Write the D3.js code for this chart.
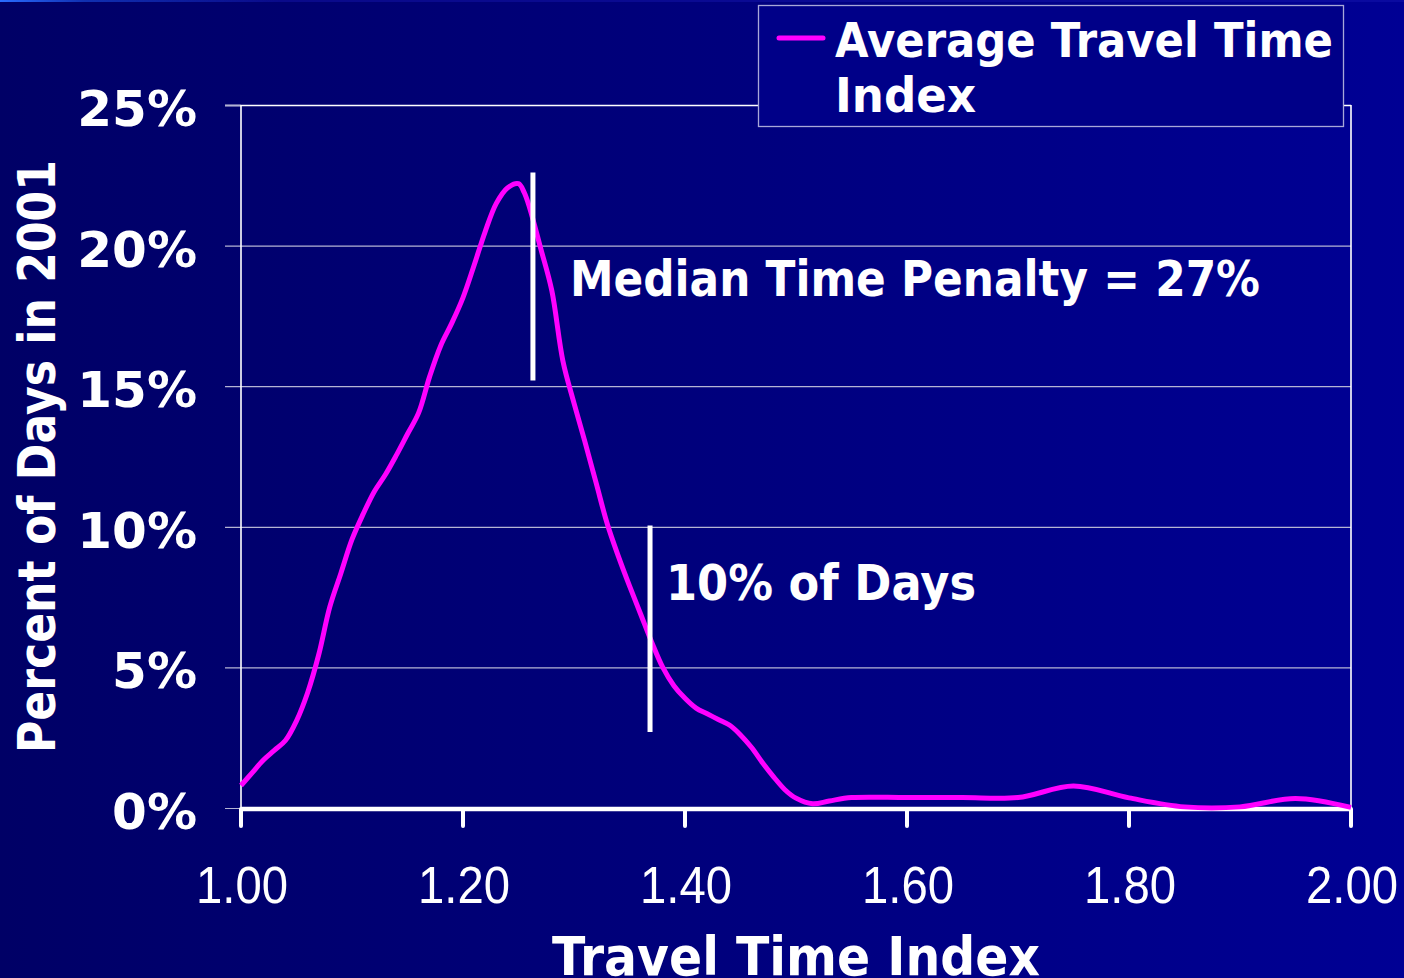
<!DOCTYPE html>
<html>
<head>
<meta charset="utf-8">
<script src="https://cdn.jsdelivr.net/npm/d3@7"></script>
<style>
  html, body { margin: 0; padding: 0; background: #000066; overflow: hidden; }
  svg { display: block; }
</style>
</head>
<body>
<svg id="chart" width="1404" height="978"></svg>
<script>
// ---- data ----
const travelIndex = [1.000,1.010,1.020,1.030,1.040,1.050,1.060,1.070,1.080,1.090,
  1.100,1.110,1.120,1.130,1.140,1.150,1.160,1.170,1.180,1.190,
  1.200,1.210,1.220,1.230,1.240,1.250,1.255,1.260,1.270,1.280,
  1.290,1.300,1.310,1.320,1.330,1.340,1.350,1.360,1.370,1.380,
  1.390,1.400,1.410,1.420,1.430,1.440,1.450,1.460,1.470,1.480,
  1.490,1.500,1.515,1.530,1.550,1.600,1.650,1.700,1.750,1.800,
  1.850,1.900,1.950,2.000];
const percentDays = [0.80,1.25,1.70,2.05,2.40,3.10,4.10,5.45,7.15,8.35,
  9.55,10.45,11.25,11.85,12.55,13.30,14.05,15.35,16.45,17.25,
  18.15,19.30,20.50,21.50,22.05,22.20,21.90,21.35,19.90,18.40,
  15.90,14.40,13.00,11.55,10.10,8.95,7.90,6.90,5.90,5.00,
  4.35,3.90,3.55,3.35,3.15,2.95,2.60,2.15,1.60,1.10,
  0.65,0.35,0.15,0.25,0.37,0.37,0.37,0.37,0.78,0.36,
  0.04,0.04,0.34,0.02];
const yTicks = [0, 5, 10, 15, 20, 25];
const yTickLabels = ["0%", "5%", "10%", "15%", "20%", "25%"];
const xTicks = [1.0, 1.2, 1.4, 1.6, 1.8, 2.0];
const xTickLabels = ["1.00", "1.20", "1.40", "1.60", "1.80", "2.00"];
const seriesName = ["Average Travel Time", "Index"];
const xTitle = "Travel Time Index";
const yTitle = "Percent of Days in 2001";
const medianMarker = { x: 1.263, y0: 15.2, y1: 22.6, label: "Median Time Penalty = 27%" };
const tenPctMarker = { x: 1.3685, y0: 2.7, y1: 10.05, label: "10% of Days" };

// ---- drawing ----
const svg = d3.select("#chart");
const W = 1404, H = 978;
const x = d3.scaleLinear().domain([1, 2]).range([241, 1351]);
const y = d3.scaleLinear().domain([0, 25]).range([808, 105]);

const defs = svg.append("defs");
const bgGrad = defs.append("linearGradient").attr("id", "bg").attr("x1", 0).attr("x2", 1).attr("y1", 0).attr("y2", 0);
bgGrad.append("stop").attr("offset", "0%").attr("stop-color", "#000066");
bgGrad.append("stop").attr("offset", "45%").attr("stop-color", "#00007a");
bgGrad.append("stop").attr("offset", "100%").attr("stop-color", "#000094");
const stripGrad = defs.append("linearGradient").attr("id", "topstrip").attr("x1", 0).attr("x2", 1).attr("y1", 0).attr("y2", 0);
stripGrad.append("stop").attr("offset", "0%").attr("stop-color", "#2a6cff");
stripGrad.append("stop").attr("offset", "6%").attr("stop-color", "#1030b0");
stripGrad.append("stop").attr("offset", "20%").attr("stop-color", "#0a0a8a");
stripGrad.append("stop").attr("offset", "100%").attr("stop-color", "#0a0aa0");

svg.append("rect").attr("width", W).attr("height", H).attr("fill", "url(#bg)");
svg.append("rect").attr("width", W).attr("height", 2).attr("fill", "url(#topstrip)");

// gridlines (with little left ticks)
svg.append("g").selectAll("line").data(yTicks).join("line")
  .attr("x1", 225).attr("x2", x(2))
  .attr("y1", d => y(d) + 0.5).attr("y2", d => y(d) + 0.5)
  .attr("stroke", d => d === 25 ? "#ffffff" : "#b4b4d4")
  .attr("stroke-width", d => d === 25 ? 1.6 : 1.2);
svg.append("line").attr("x1", 225).attr("x2", 241).attr("y1", y(25) + 0.5).attr("y2", y(25) + 0.5)
  .attr("stroke", "#b4b4d4").attr("stroke-width", 1.6);

// left axis and right border
svg.append("line").attr("x1", x(1)).attr("x2", x(1)).attr("y1", y(25)).attr("y2", y(0))
  .attr("stroke", "#ffffff").attr("stroke-width", 1.6);
svg.append("line").attr("x1", x(2)).attr("x2", x(2)).attr("y1", y(25)).attr("y2", y(0))
  .attr("stroke", "#ffffff").attr("stroke-width", 1.6);

// bottom axis
svg.append("line").attr("x1", x(1)).attr("x2", x(2)).attr("y1", y(0) + 1).attr("y2", y(0) + 1)
  .attr("stroke", "#ffffff").attr("stroke-width", 4.5);
svg.append("g").selectAll("line").data(xTicks).join("line")
  .attr("x1", d => x(d)).attr("x2", d => x(d))
  .attr("y1", y(0) + 1).attr("y2", y(0) + 18)
  .attr("stroke", "#ffffff").attr("stroke-width", 4).attr("stroke-linecap", "round");

// y tick labels
svg.append("g").selectAll("text").data(yTicks).join("text")
  .attr("x", 197).attr("y", d => y(d) + 21)
  .attr("text-anchor", "end")
  .attr("font-family", "DejaVu Sans").attr("font-weight", "bold").attr("font-size", 50)
  .attr("fill", "#ffffff")
  .text((d, i) => yTickLabels[i]);

// x tick labels
svg.append("g").selectAll("text").data(xTicks).join("text")
  .attr("x", d => x(d) + 1).attr("y", 903)
  .attr("text-anchor", "middle")
  .attr("font-family", "Liberation Sans").attr("font-size", 52)
  .attr("textLength", 92).attr("lengthAdjust", "spacingAndGlyphs")
  .attr("fill", "#ffffff")
  .text((d, i) => xTickLabels[i]);

// axis titles
svg.append("text").attr("x", 796).attr("y", 975).attr("text-anchor", "middle")
  .attr("font-family", "DejaVu Sans").attr("font-weight", "bold").attr("font-size", 54)
  .attr("textLength", 488).attr("lengthAdjust", "spacingAndGlyphs")
  .attr("fill", "#ffffff").text(xTitle);
svg.append("text").attr("transform", "translate(55,456.5) rotate(-90)").attr("text-anchor", "middle")
  .attr("font-family", "DejaVu Sans").attr("font-weight", "bold").attr("font-size", 51)
  .attr("textLength", 593).attr("lengthAdjust", "spacingAndGlyphs")
  .attr("fill", "#ffffff").text(yTitle);

// data line
const line = d3.line().x(d => x(d[0])).y(d => y(d[1])).curve(d3.curveCatmullRom.alpha(0.5));
svg.append("path").datum(d3.zip(travelIndex, percentDays))
  .attr("d", line).attr("fill", "none")
  .attr("stroke", "#ff00ff").attr("stroke-width", 5).attr("stroke-linejoin", "round");

// markers
[medianMarker, tenPctMarker].forEach(m => {
  svg.append("line").attr("x1", x(m.x)).attr("x2", x(m.x)).attr("y1", y(m.y1)).attr("y2", y(m.y0))
    .attr("stroke", "#ffffff").attr("stroke-width", 5);
});
svg.append("text").attr("x", 570).attr("y", 296)
  .attr("font-family", "DejaVu Sans").attr("font-weight", "bold").attr("font-size", 50)
  .attr("textLength", 690).attr("lengthAdjust", "spacingAndGlyphs")
  .attr("fill", "#ffffff").text(medianMarker.label);
svg.append("text").attr("x", 666).attr("y", 600)
  .attr("font-family", "DejaVu Sans").attr("font-weight", "bold").attr("font-size", 50)
  .attr("textLength", 310).attr("lengthAdjust", "spacingAndGlyphs")
  .attr("fill", "#ffffff").text(tenPctMarker.label);

// legend
svg.append("rect").attr("x", 758.5).attr("y", 5.5).attr("width", 585).attr("height", 121)
  .attr("fill", "#000088").attr("stroke", "#a8a8d8").attr("stroke-width", 1.3);
svg.append("line").attr("x1", 779).attr("x2", 823).attr("y1", 38).attr("y2", 38)
  .attr("stroke", "#ff00ff").attr("stroke-width", 5).attr("stroke-linecap", "round");
svg.append("text").attr("x", 835).attr("y", 57)
  .attr("font-family", "DejaVu Sans").attr("font-weight", "bold").attr("font-size", 48)
  .attr("textLength", 498).attr("lengthAdjust", "spacingAndGlyphs")
  .attr("fill", "#ffffff").text(seriesName[0]);
svg.append("text").attr("x", 835).attr("y", 112)
  .attr("font-family", "DejaVu Sans").attr("font-weight", "bold").attr("font-size", 48)
  .attr("textLength", 141).attr("lengthAdjust", "spacingAndGlyphs")
  .attr("fill", "#ffffff").text(seriesName[1]);
</script>
</body>
</html>
